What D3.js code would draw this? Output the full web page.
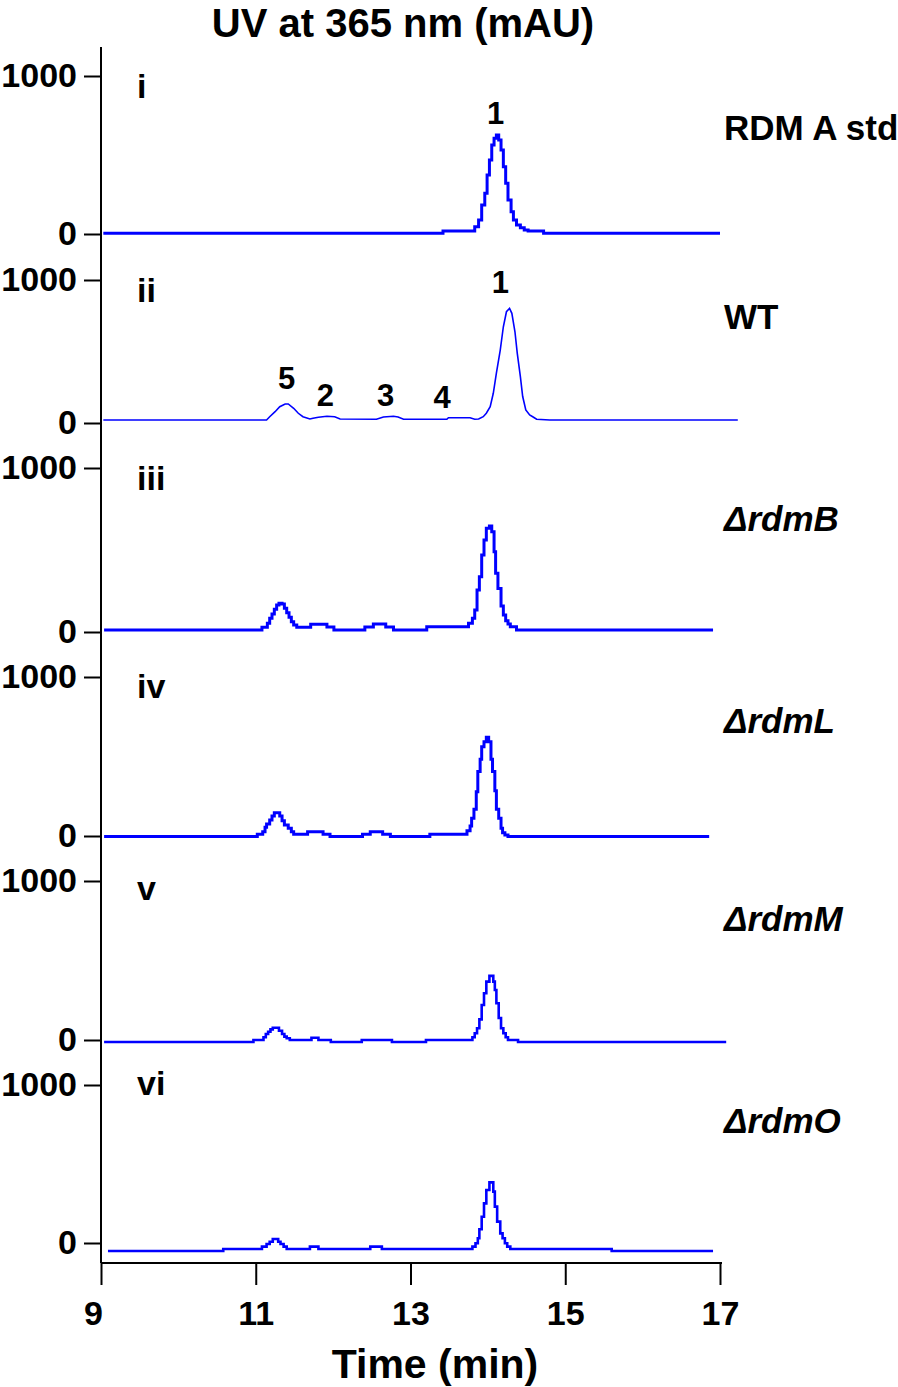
<!DOCTYPE html>
<html>
<head>
<meta charset="utf-8">
<script src="https://cdn.jsdelivr.net/npm/d3@7"></script>
<style>
  body { margin: 0; background: #fff; }
  svg { display: block; font-family: 'Liberation Sans', Arial, sans-serif; font-weight: bold; }
</style>
</head>
<body>
<svg id="chart" width="898" height="1387"></svg>
<script>
/* global d3 */
// time (min), absorbance (mAU)
const rdmAStd = [
  [9.03, 5], [13.42, 19], [13.83, 46], [13.88, 89], [13.92, 184], [13.96, 258], [13.99, 373],
  [14.02, 468], [14.05, 563], [14.08, 606], [14.11, 627], [14.14, 595], [14.17, 532], [14.20, 426],
  [14.23, 321], [14.26, 215], [14.30, 141], [14.33, 89], [14.37, 57], [14.42, 40], [14.47, 25],
  [14.52, 19], [14.72, 5], [17.0, 5],
];
const wildType = [
  [9.03, 21], [11.14, 21], [11.18, 44], [11.25, 79], [11.31, 114], [11.38, 133], [11.42, 133],
  [11.49, 103], [11.55, 68], [11.61, 44], [11.70, 28], [11.74, 33], [11.81, 40], [11.92, 47],
  [12.02, 44], [12.09, 28], [12.56, 26], [12.65, 42], [12.78, 47], [12.84, 42], [12.91, 26],
  [13.47, 26], [13.49, 37], [13.77, 37], [13.83, 26], [13.88, 28], [13.94, 44], [13.98, 68],
  [14.03, 114], [14.07, 208], [14.11, 348], [14.16, 510], [14.20, 673], [14.24, 778], [14.28, 802],
  [14.31, 767], [14.35, 638], [14.38, 487], [14.42, 325], [14.45, 185], [14.49, 91], [14.54, 56],
  [14.59, 40], [14.63, 26], [14.80, 21], [17.23, 21],
];
const rdmB = [
  [9.04, 12], [11.08, 29], [11.15, 53], [11.18, 84], [11.21, 110], [11.24, 138], [11.27, 165],
  [11.30, 175], [11.34, 171], [11.37, 145], [11.40, 117], [11.43, 90], [11.46, 63], [11.49, 43],
  [11.53, 29], [11.71, 47], [11.92, 30], [12.01, 12], [12.41, 30], [12.52, 49], [12.68, 30],
  [12.78, 12], [13.21, 32], [13.75, 53], [13.80, 84], [13.83, 134], [13.86, 256], [13.89, 337],
  [13.92, 470], [13.95, 561], [13.98, 632], [14.02, 646], [14.05, 612], [14.08, 490], [14.10, 358],
  [14.13, 266], [14.17, 159], [14.20, 104], [14.23, 69], [14.26, 49], [14.29, 32], [14.37, 12],
  [16.91, 12],
];
const rdmL = [
  [9.04, -3], [11.02, 11], [11.09, 27], [11.12, 55], [11.14, 75], [11.18, 101], [11.21, 126],
  [11.24, 147], [11.31, 126], [11.34, 96], [11.37, 69], [11.42, 48], [11.46, 27], [11.49, 11],
  [11.67, 27], [11.87, 11], [11.96, -3], [12.38, 11], [12.48, 27], [12.64, 11], [12.74, -3],
  [13.25, 11], [13.73, 33], [13.77, 63], [13.79, 111], [13.82, 168], [13.85, 279], [13.87, 405],
  [13.90, 482], [13.92, 562], [13.95, 593], [13.98, 621], [14.01, 593], [14.04, 482], [14.06, 405],
  [14.09, 285], [14.11, 168], [14.14, 111], [14.17, 48], [14.19, 21], [14.22, 6], [14.26, -3],
  [16.86, -3],
];
const rdmM = [
  [9.04, -13], [10.97, 0], [11.10, 17], [11.13, 38], [11.16, 52], [11.19, 67], [11.22, 77],
  [11.30, 58], [11.34, 38], [11.37, 21], [11.40, 11], [11.44, 0], [11.72, 14], [11.81, 0],
  [11.97, -13], [12.37, 0], [12.76, -13], [13.20, 0], [13.80, 17], [13.83, 42], [13.86, 74],
  [13.89, 130], [13.92, 220], [13.95, 294], [13.98, 367], [14.02, 403], [14.07, 367], [14.09, 314],
  [14.11, 231], [14.14, 138], [14.17, 74], [14.20, 42], [14.23, 17], [14.26, 0], [14.39, -13],
  [17.08, -13],
];
const rdmO = [
  [9.09, -51], [10.58, -38], [11.08, -23], [11.14, -6], [11.18, 8], [11.22, 25], [11.29, 8],
  [11.32, -6], [11.36, -23], [11.40, -38], [11.70, -23], [11.81, -38], [12.48, -23], [12.63, -38],
  [13.80, -23], [13.84, -2], [13.87, 30], [13.89, 87], [13.92, 166], [13.95, 251], [13.98, 335],
  [14.02, 384], [14.07, 325], [14.09, 230], [14.12, 135], [14.16, 61], [14.19, 30], [14.22, -2],
  [14.25, -23], [14.29, -38], [15.60, -51], [16.91, -51],
];

const panelIds = ['i', 'ii', 'iii', 'iv', 'v', 'vi'];
const sampleNames = ['RDM A std', 'WT', 'rdmB', 'rdmL', 'rdmM', 'rdmO'];
const traces = [rdmAStd, wildType, rdmB, rdmL, rdmM, rdmO];
const yTicks = [0, 1000];
const xTicks = [9, 11, 13, 15, 17];
// peak number, time, label height (mAU) — panel index
const peakLabels = [
  { panel: 0, text: '1', t: 14.10, v: 763 },
  { panel: 1, text: '1', t: 14.16, v: 986 },
  { panel: 1, text: '5', t: 11.40, v: 308 },
  { panel: 1, text: '2', t: 11.90, v: 189 },
  { panel: 1, text: '3', t: 12.68, v: 189 },
  { panel: 1, text: '4', t: 13.41, v: 175 },
];

// layout: pixel rows of 0 and 1000 for each stacked panel
const layout = [
  { y0: 234, y1k: 76, lw: 3, curve: d3.curveStepAfter, nameY: 127, idY: 86 },
  { y0: 423, y1k: 280, lw: 1.6, curve: d3.curveLinear, nameY: 316, idY: 290 },
  { y0: 632, y1k: 468, lw: 3, curve: d3.curveStepAfter, nameY: 518, idY: 478 },
  { y0: 836, y1k: 677, lw: 3, curve: d3.curveStepAfter, nameY: 720, idY: 686 },
  { y0: 1040, y1k: 881, lw: 2.6, curve: d3.curveStepAfter, nameY: 918, idY: 888 },
  { y0: 1243, y1k: 1085, lw: 2.6, curve: d3.curveStepAfter, nameY: 1120, idY: 1083 },
];
const axisX = 101;
const axisBottom = 1263;

const svg = d3.select('#chart');
const x = d3.scaleLinear().domain([9, 17]).range([axisX, 720]);

svg.append('text')
  .attr('x', 403).attr('y', 37)
  .attr('text-anchor', 'middle')
  .attr('font-size', 40)
  .text('UV at 365 nm (mAU)');

// one long vertical axis line
svg.append('line')
  .attr('x1', axisX).attr('x2', axisX)
  .attr('y1', 47).attr('y2', axisBottom)
  .attr('stroke', '#000').attr('stroke-width', 2);

traces.forEach((data, i) => {
  const p = layout[i];
  const y = d3.scaleLinear().domain([0, 1000]).range([p.y0, p.y1k]);
  const g = svg.append('g');

  g.append('g')
    .attr('transform', `translate(${axisX},0)`)
    .call(d3.axisLeft(y).tickValues(yTicks).tickSize(17).tickPadding(7)
      .tickFormat(d3.format('d')))
    .call((a) => a.select('.domain').remove())
    .call((a) => a.selectAll('line').attr('stroke-width', 2))
    .call((a) => a.selectAll('text')
      .attr('font-size', 34)
      .attr('font-weight', 'bold')
      .attr('font-family', "'Liberation Sans', Arial, sans-serif")
      .attr('fill', '#000'));

  const line = d3.line()
    .x((d) => x(d[0]))
    .y((d) => y(d[1]))
    .curve(p.curve);
  g.append('path')
    .datum(data)
    .attr('fill', 'none')
    .attr('stroke', '#0000ff')
    .attr('stroke-width', p.lw)
    .attr('d', line);

  g.append('text')
    .attr('x', 137).attr('y', p.idY)
    .attr('dominant-baseline', 'central')
    .attr('font-size', 34)
    .text(panelIds[i]);

  const name = g.append('text')
    .attr('x', 724).attr('y', p.nameY)
    .attr('dominant-baseline', 'central')
    .attr('font-size', 35);
  if (i < 2) {
    name.text(sampleNames[i]);
  } else {
    name.attr('font-style', 'italic').text(`\u0394${sampleNames[i]}`);
  }

  g.selectAll('text.peak')
    .data(peakLabels.filter((d) => d.panel === i))
    .join('text')
    .attr('class', 'peak')
    .attr('x', (d) => x(d.t))
    .attr('y', (d) => y(d.v))
    .attr('text-anchor', 'middle')
    .attr('dominant-baseline', 'central')
    .attr('font-size', 31)
    .text((d) => d.text);
});

svg.append('g')
  .attr('transform', `translate(0,${axisBottom})`)
  .call(d3.axisBottom(x).tickValues(xTicks).tickSize(22).tickSizeOuter(0).tickPadding(16))
  .call((a) => a.select('.domain').attr('stroke-width', 2).attr('d', `M${axisX},0H722`))
  .call((a) => a.selectAll('line').attr('stroke-width', 2))
  .call((a) => a.selectAll('text')
    .attr('font-size', 34)
    .attr('font-weight', 'bold')
    .attr('font-family', "'Liberation Sans', Arial, sans-serif")
    .attr('fill', '#000')
    .attr('dx', (d) => (d === 9 ? -8 : 0)));

svg.append('text')
  .attr('x', 435).attr('y', 1378)
  .attr('text-anchor', 'middle')
  .attr('font-size', 41)
  .text('Time (min)');
</script>
</body>
</html>
